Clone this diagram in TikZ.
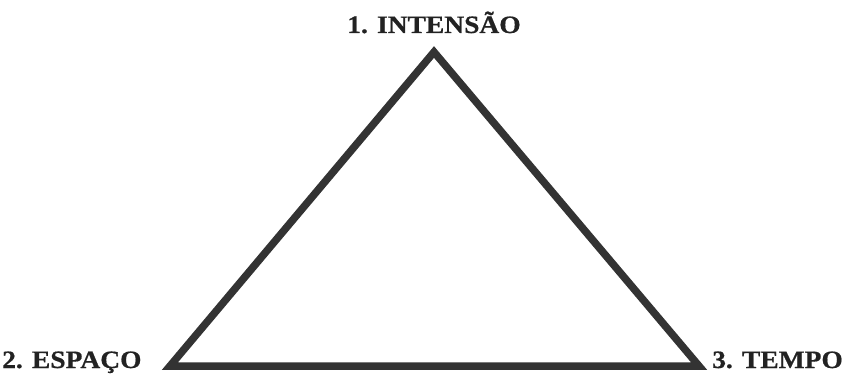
\documentclass[tikz,border=0pt]{standalone}
\usepackage{fontspec}
\setmainfont{Liberation Serif}
\newfontfamily\labelfont{Liberation Serif}[FakeStretch=1.1, FakeBold=0.6]
\usetikzlibrary{positioning}

\definecolor{edgegray}{HTML}{333333}
\definecolor{textgray}{HTML}{222222}

\begin{document}
\begin{tikzpicture}[
    x=1pt, y=-1pt,
    vlabel/.style={font=\labelfont\fontsize{25}{25}\selectfont\bfseries, text=textgray, inner sep=0pt},
    side/.style={draw=edgegray, line width=7.5pt, line join=miter}
]
\useasboundingbox (0,0) rectangle (850,385);

% vertices
\coordinate (top) at (434,52);
\coordinate (left) at (170,366);
\coordinate (right) at (699,366);

\draw[side] (top) -- (left) -- (right) -- cycle;

% labels
\node[vlabel, anchor=base] (intensao) at (434,33) {1. INTENSÃO};
\node[vlabel, anchor=base west] (espaco) at (2,368) {2. ESPAÇO};
\node[vlabel, anchor=base west] (tempo) at (712,368) {3. TEMPO};

\end{tikzpicture}
\end{document}
